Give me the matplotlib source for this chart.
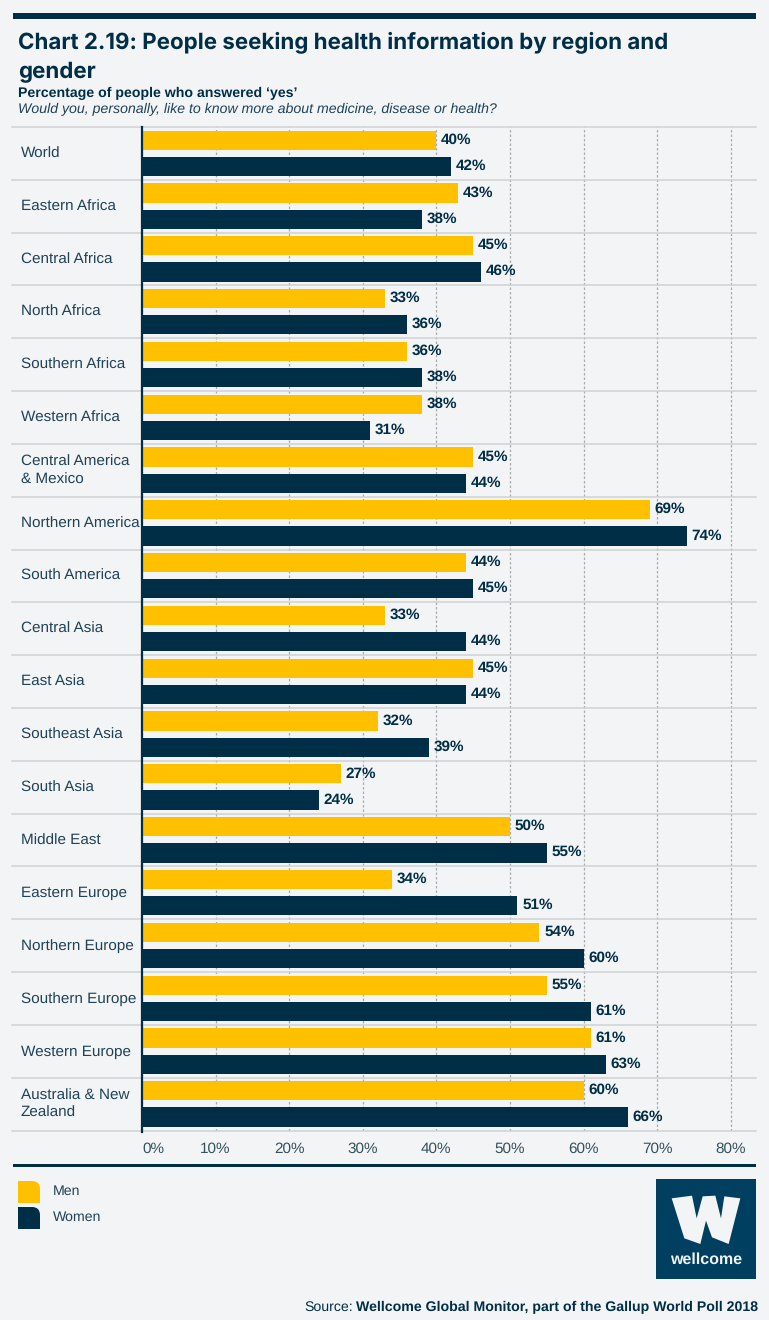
import matplotlib
matplotlib.use("Agg")
import matplotlib.pyplot as plt
from matplotlib.patches import Rectangle, Polygon, PathPatch
from matplotlib.path import Path
from matplotlib.transforms import Affine2D
import numpy as np

regions = ["World", "Eastern Africa", "Central Africa", "North Africa", "Southern Africa",
           "Western Africa", "Central America\n& Mexico", "Northern America", "South America",
           "Central Asia", "East Asia", "Southeast Asia", "South Asia", "Middle East",
           "Eastern Europe", "Northern Europe", "Southern Europe", "Western Europe",
           "Australia & New\nZealand"]
men = [40, 43, 45, 33, 36, 38, 45, 69, 44, 33, 45, 32, 27, 50, 34, 54, 55, 61, 60]
women = [42, 38, 46, 36, 38, 31, 44, 74, 45, 44, 44, 39, 24, 55, 51, 60, 61, 63, 66]
ticks = [0, 10, 20, 30, 40, 50, 60, 70, 80]

plt.rcParams["text.hinting"] = "no_hinting"
plt.rcParams["text.hinting_factor"] = 8

NAVY = "#002E46"
YELLOW = "#FFC000"
BG = "#F3F4F6"
GRID = "#A9ABAD"
ROW = "#CFD1D3"
W, H = 769, 1320
SANS = "Liberation Sans"

fig = plt.figure(figsize=(W / 100, H / 100), dpi=100, facecolor=BG)
px = Affine2D().scale(1, -1).translate(0, H)  # pixel coordinates, y down

def ftext(x, y, s, **kw):
    kw.setdefault("family", SANS)
    kw.setdefault("color", NAVY)
    return fig.text(x, y, s, transform=px, **kw)

def frect(x, y, w, h, color):
    fig.add_artist(Rectangle((x, y), w, h, transform=px, facecolor=color, edgecolor="none"))

# top and bottom rules
frect(13, 13, 743, 6, NAVY)
frect(13, 1164, 743, 2.5, NAVY)

ftext(18, 48, "Chart 2.19: People seeking health information by region and", family="Inter",
      fontsize=16.07, fontweight="bold", va="baseline")
ftext(18, 78, "gender", family="Inter", fontsize=16.07, fontweight="bold", va="baseline")
ftext(18, 97, "Percentage of people who answered \u2018yes\u2019", fontsize=10.2, fontweight="bold", va="baseline")
ftext(18, 113, "Would you, personally, like to know more about medicine, disease or health?",
      fontsize=10.2, style="italic", va="baseline", color="#1F4257")

# plot area
left, right, top, bottom = 142, 756, 127, 1130.5
ax = fig.add_axes([left / W, 1 - bottom / H, (right - left) / W, (bottom - top) / H])
ax.set_facecolor("none")
n = len(regions)
ax.set_xlim(0, (right - left) / 7.36)
ax.set_ylim(n, 0)
y = np.arange(n)
ax.set_xticks(ticks)
ax.set_xticklabels([f"{t}%" for t in ticks], fontsize=11, family=SANS, color="#33505F")
ax.get_xticklabels()[0].set_ha("left")
ax.get_xticklabels()[0].set_x(0.3)
ax.set_yticks([])
ax.tick_params(axis="x", length=0, pad=8.5)
ax.xaxis.grid(True, color=GRID, linestyle=(0, (2, 1.6)), linewidth=0.9)
ax.set_axisbelow(True)
for s in ["top", "right", "bottom", "left"]:
    ax.spines[s].set_visible(False)

bh = 19.2 / 52.8
ax.barh(y + 3.5 / 52.8, men, height=bh, align="edge", color=YELLOW, label="Men", zorder=3)
ax.barh(y + 29.7 / 52.8, women, height=bh, align="edge", color=NAVY, label="Women", zorder=3)
for i, (m, w) in enumerate(zip(men, women)):
    ax.text(m + 0.65, i + 12.7 / 52.8, f"{m}%", va="center", ha="left", fontsize=11,
            fontweight="bold", family=SANS, color=NAVY, zorder=4)
    ax.text(w + 0.65, i + 38.8 / 52.8, f"{w}%", va="center", ha="left", fontsize=11,
            fontweight="bold", family=SANS, color=NAVY, zorder=4)
    ax.annotate(regions[i], xy=(0, i + 0.5), xycoords="data",
                xytext=(21 - left, -0.5), textcoords=("offset pixels"),
                va="center", ha="left", fontsize=11, family=SANS, color="#1F4257",
                linespacing=1.33, annotation_clip=False)

# row separators across the label column too
for i in range(n + 1):
    yy = top + i * (bottom - top) / n
    fig.add_artist(plt.Line2D([12, right], [yy, yy], transform=px, color=ROW, lw=1.1, zorder=1))
# baseline
fig.add_artist(plt.Line2D([142, 142], [127, 1131.5], transform=px, color=NAVY, lw=1.6, zorder=5))

# legend swatches with a rounded top-right corner
def swatch(x, y, color):
    s, r = 22, 8
    verts = [(x, y), (x + s - r, y), (x + s, y), (x + s, y + r), (x + s, y + s), (x, y + s), (x, y)]
    codes = [Path.MOVETO, Path.LINETO, Path.CURVE3, Path.CURVE3, Path.LINETO, Path.LINETO, Path.CLOSEPOLY]
    fig.add_artist(PathPatch(Path(verts, codes), transform=px, facecolor=color, edgecolor="none"))

swatch(18, 1181, YELLOW)
swatch(18, 1207, NAVY)
ftext(52.5, 1191, "Men", fontsize=10.2, va="center", color="#1F4257")
ftext(52.5, 1217, "Women", fontsize=10.2, va="center", color="#1F4257")

# logo
LOGO = "#003F5F"
frect(656, 1179, 100, 99.5, LOGO)
logo_w = [(47, 58), (108, 50), (122, 118), (140, 52), (178, 50), (195, 118), (205, 52), (253, 58),
          (218, 195), (168, 175), (150, 125), (133, 195), (85, 178)]
w_shape = [(656 + a / 3, 1179 + b / 3) for a, b in logo_w]
fig.add_artist(Polygon(w_shape, closed=True, transform=px, facecolor=BG, edgecolor="none"))
ftext(706, 1259.5, "wellcome", fontsize=11.5, fontweight="bold", color=BG, ha="center", va="center")

# source
bold = ftext(758, 1311, "Wellcome Global Monitor, part of the Gallup World Poll 2018", fontsize=10.2,
             fontweight="bold", ha="right", va="baseline")
fig.canvas.draw()
bb = bold.get_window_extent()
ftext(bb.x0 - 3, 1311, "Source:", fontsize=10.2, ha="right", va="baseline")

fig.savefig("out.png", dpi=100, facecolor=BG)
